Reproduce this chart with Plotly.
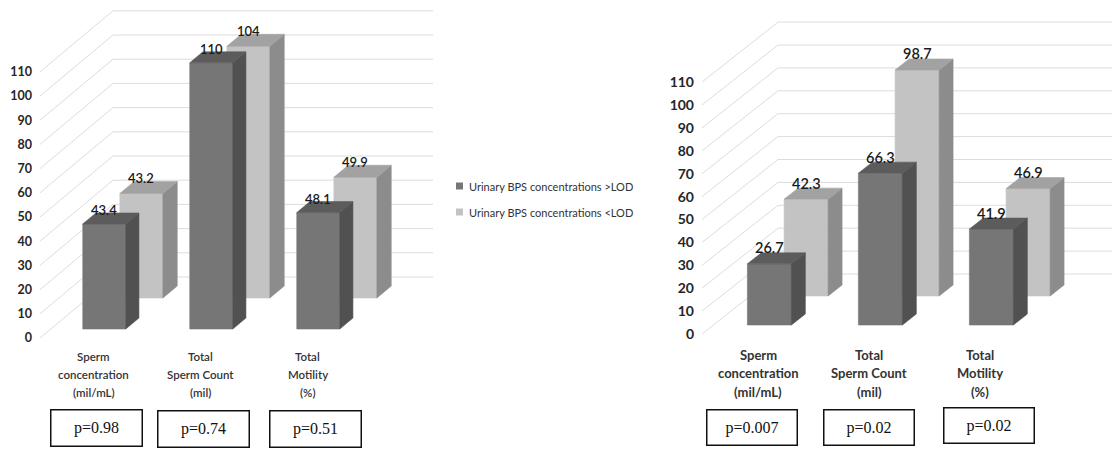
import plotly.graph_objects as go

# ---- data -------------------------------------------------------------
CATEGORY_LINES = [
    ["Sperm", "concentration", "(mil/mL)"],
    ["Total", "Sperm Count", "(mil)"],
    ["Total", "Motility", "(%)"],
]
SERIES = ["Urinary BPS concentrations >LOD", "Urinary BPS concentrations <LOD"]

LEFT_ABOVE_LOD = [43.4, 110, 48.1]
LEFT_BELOW_LOD = [43.2, 104, 49.9]
LEFT_P_VALUES = ["p=0.98", "p=0.74", "p=0.51"]

RIGHT_ABOVE_LOD = [26.7, 66.3, 41.9]
RIGHT_BELOW_LOD = [42.3, 98.7, 46.9]
RIGHT_P_VALUES = ["p=0.007", "p=0.02", "p=0.02"]

Y_TICKS = list(range(0, 120, 10))

# ---- page / style -----------------------------------------------------
W, H = 1112, 449
GRID = "#dcdcdc"
TEXT = "#262626"
FACES = [
    dict(front="#767676", side="#515151", top="#5c5c5c"),   # >LOD (front row)
    dict(front="#c3c3c3", side="#8c8c8c", top="#a2a2a2"),   # <LOD (back row)
]

PANELS = [
    dict(axis="y", series=[LEFT_ABOVE_LOD, LEFT_BELOW_LOD], pvals=LEFT_P_VALUES,
         front0=338, scale=2.42, depth=61, slant=73 / 61,
         cat_x0=72, cat_step=107, bar_w=43, rows=[(9, 20), (40, 52)],
         diag_x=40, wall_end=433, tick_size=12.5, val_size=13, val_shift=3,
         cat_size=11.5, cat_weight=600, cat_y=[356, 374, 392],
         box_x=[96, 203, 315], box_y=[428, 429, 429], box_w=88, box_h=33),
    dict(axis="y2", series=[RIGHT_ABOVE_LOD, RIGHT_BELOW_LOD], pvals=RIGHT_P_VALUES,
         front0=334, scale=2.29, depth=60, slant=76 / 60,
         cat_x0=736, cat_step=111, bar_w=44, rows=[(9, 20), (38, 49)],
         diag_x=702, wall_end=1112, tick_size=14, val_size=14.5, val_shift=5,
         cat_size=13, cat_weight="bold", cat_y=[355, 373, 392],
         box_x=[752, 869, 989], box_y=[427, 427, 425], box_w=87, box_h=32),
]

fig = go.Figure()
annotations = []
shapes = []


def poly(xs, ys, color, yaxis):
    fig.add_trace(go.Scatter(
        x=xs + [xs[0]], y=ys + [ys[0]], mode="lines", fill="toself",
        fillcolor=color, line=dict(color=color, width=0.6),
        yaxis=yaxis, hoverinfo="skip", showlegend=False))


for p in PANELS:
    s, sl, ya = p["scale"], p["slant"], p["axis"]
    ref = "y" if ya == "y" else "y2"

    # back wall + floor-side guide lines
    back_dx = p["depth"] * sl
    back_dv = p["depth"] / s
    gx, gy = [], []
    for v in Y_TICKS:
        gx += [p["diag_x"], p["diag_x"] + back_dx, p["wall_end"], None]
        gy += [v, v + back_dv, v + back_dv, None]
    fig.add_trace(go.Scatter(x=gx, y=gy, mode="lines", line=dict(color=GRID, width=1),
                             yaxis=ya, hoverinfo="skip", showlegend=False))

    # bars: back row first so the front row covers it
    for row in (1, 0):
        d0, d1 = p["rows"][row]
        f = FACES[row]
        for i, v in enumerate(p["series"][row]):
            cx = p["cat_x0"] + i * p["cat_step"]
            x0 = cx + d0 * sl
            x1 = x0 + p["bar_w"]
            ddx = (d1 - d0) * sl
            b0 = d0 / s
            b1 = d1 / s
            poly([x0, x1, x1, x0], [b0, b0, b0 + v, b0 + v], f["front"], ya)
            poly([x1, x1 + ddx, x1 + ddx, x1], [b0, b1, b1 + v, b0 + v], f["side"], ya)
            poly([x0, x1, x1 + ddx, x0 + ddx], [b0 + v, b0 + v, b1 + v, b1 + v], f["top"], ya)
            annotations.append(dict(
                x=(x0 + x1) / 2, y=b1 + v, xref="x", yref=ref, text=f"{v:g}",
                showarrow=False, yanchor="middle", yshift=p["val_shift"],
                font=dict(family="Lato", size=p["val_size"], color="#1a1a1a", weight=600)))

    # category labels and p-value boxes
    for i, lines in enumerate(CATEGORY_LINES):
        cx = p["cat_x0"] + i * p["cat_step"] + p["bar_w"] / 2
        for line, ly in zip(lines, p["cat_y"]):
            annotations.append(dict(
                x=cx, y=1 - ly / H, xref="x", yref="paper", text=line,
                showarrow=False, xanchor="center", yanchor="middle",
                font=dict(family="Lato", size=p["cat_size"], color="#333333",
                          weight=p["cat_weight"])))
        annotations.append(dict(
            x=p["box_x"][i], y=1 - p["box_y"][i] / H, xref="x", yref="paper",
            text=p["pvals"][i], showarrow=False, xanchor="center", yanchor="middle",
            width=p["box_w"], height=p["box_h"], bordercolor="#111111", borderwidth=1.5,
            borderpad=1, bgcolor="white",
            font=dict(family="Liberation Serif", size=16, color="#111111")))

# legend
for k, (name, f) in enumerate(zip(SERIES, FACES)):
    yc = [186, 212][k]
    shapes.append(dict(type="rect", xref="x", yref="paper",
                       x0=456, x1=463, y0=1 - (yc + 3.5) / H, y1=1 - (yc - 3.5) / H,
                       fillcolor=f["front"], line=dict(width=0)))
    annotations.append(dict(x=467, y=1 - yc / H, xref="x", yref="paper", text=name,
                            showarrow=False, xanchor="left", yanchor="middle",
                            font=dict(family="Lato", size=11, color="#333333")))


def yaxis_for(p, overlay=None):
    ax = dict(
        range=[(p["front0"] - H) / p["scale"], p["front0"] / p["scale"]],
        domain=[0, 1], anchor="free", position=p["diag_x"] / W,
        tickmode="array", tickvals=Y_TICKS, ticks="", ticklabelstandoff=8,
        showgrid=False, zeroline=False, showline=False, automargin=False,
        tickfont=dict(family="Lato", size=p["tick_size"], color=TEXT, weight="bold"),
    )
    if overlay:
        ax["overlaying"] = overlay
    return ax


fig.update_layout(
    width=W, height=H, margin=dict(l=0, r=0, t=0, b=0),
    paper_bgcolor="white", plot_bgcolor="white",
    xaxis=dict(range=[0, W], domain=[0, 1], visible=False, fixedrange=True),
    yaxis=yaxis_for(PANELS[0]),
    yaxis2=yaxis_for(PANELS[1], overlay="y"),
    annotations=annotations, shapes=shapes, showlegend=False,
)

fig.write_html("out.html")
